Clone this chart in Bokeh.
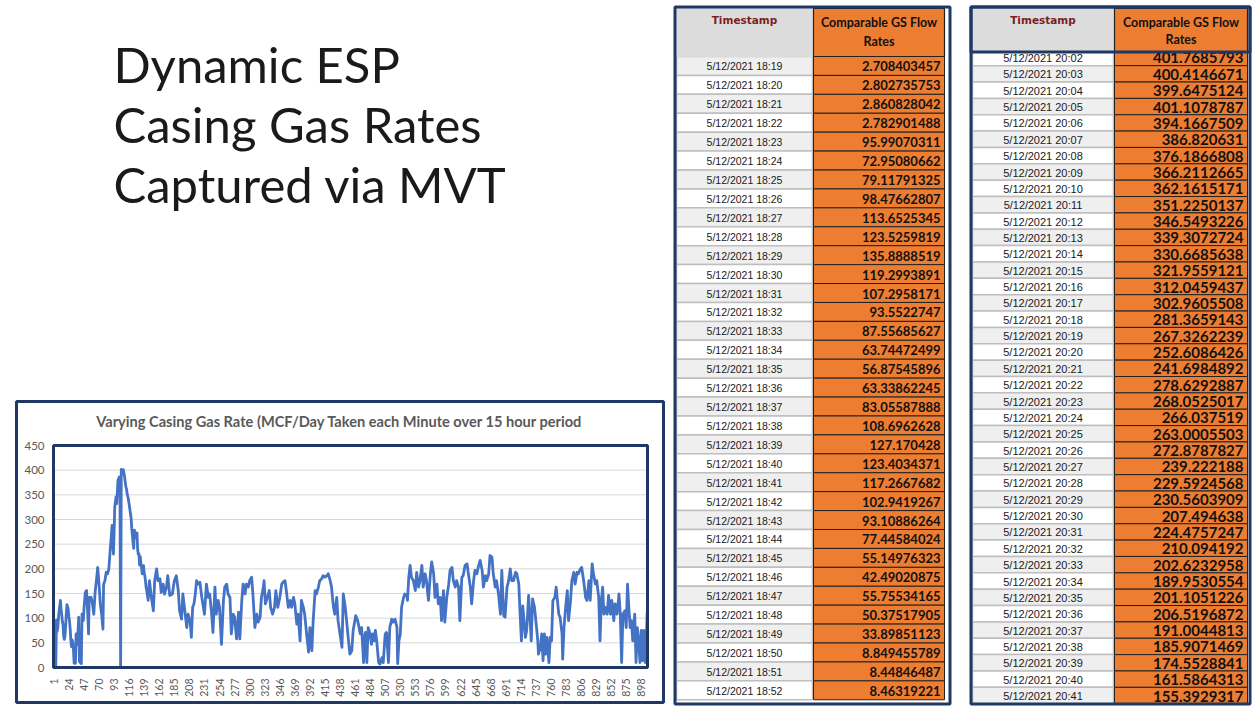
import math
from bokeh.plotting import figure
from bokeh.models import ColumnDataSource, Range1d, FixedTicker
from bokeh.layouts import row, column
from bokeh.core.properties import value
from bokeh.embed import file_html
from bokeh.resources import INLINE

# ---------------------------------------------------------------- data
TITLE_LINES = ["Dynamic ESP", "Casing Gas Rates", "Captured via MVT"]
CHART_TITLE = "Varying Casing Gas Rate (MCF/Day Taken each Minute over 15 hour period"
HEADER_TS = "Timestamp"
HEADER_VAL = ["Comparable GS Flow", "Rates"]

TABLE1_TIMES = [
    "5/12/2021 18:19", "5/12/2021 18:20", "5/12/2021 18:21", "5/12/2021 18:22",
    "5/12/2021 18:23", "5/12/2021 18:24", "5/12/2021 18:25", "5/12/2021 18:26",
    "5/12/2021 18:27", "5/12/2021 18:28", "5/12/2021 18:29", "5/12/2021 18:30",
    "5/12/2021 18:31", "5/12/2021 18:32", "5/12/2021 18:33", "5/12/2021 18:34",
    "5/12/2021 18:35", "5/12/2021 18:36", "5/12/2021 18:37", "5/12/2021 18:38",
    "5/12/2021 18:39", "5/12/2021 18:40", "5/12/2021 18:41", "5/12/2021 18:42",
    "5/12/2021 18:43", "5/12/2021 18:44", "5/12/2021 18:45", "5/12/2021 18:46",
    "5/12/2021 18:47", "5/12/2021 18:48", "5/12/2021 18:49", "5/12/2021 18:50",
    "5/12/2021 18:51", "5/12/2021 18:52",
]
TABLE1_RATES = [
    2.708403457, 2.802735753, 2.860828042, 2.782901488, 95.99070311, 72.95080662,
    79.11791325, 98.47662807, 113.6525345, 123.5259819, 135.8888519, 119.2993891,
    107.2958171, 93.5522747, 87.55685627, 63.74472499, 56.87545896, 63.33862245,
    83.05587888, 108.6962628, 127.170428, 123.4034371, 117.2667682, 102.9419267,
    93.10886264, 77.44584024, 55.14976323, 42.49020875, 55.75534165, 50.37517905,
    33.89851123, 8.849455789, 8.44846487, 8.46319221,
]
TABLE1_FIRST_MINUTE = 1

TABLE2_TIMES = [
    "5/12/2021 20:02", "5/12/2021 20:03", "5/12/2021 20:04", "5/12/2021 20:05",
    "5/12/2021 20:06", "5/12/2021 20:07", "5/12/2021 20:08", "5/12/2021 20:09",
    "5/12/2021 20:10", "5/12/2021 20:11", "5/12/2021 20:12", "5/12/2021 20:13",
    "5/12/2021 20:14", "5/12/2021 20:15", "5/12/2021 20:16", "5/12/2021 20:17",
    "5/12/2021 20:18", "5/12/2021 20:19", "5/12/2021 20:20", "5/12/2021 20:21",
    "5/12/2021 20:22", "5/12/2021 20:23", "5/12/2021 20:24", "5/12/2021 20:25",
    "5/12/2021 20:26", "5/12/2021 20:27", "5/12/2021 20:28", "5/12/2021 20:29",
    "5/12/2021 20:30", "5/12/2021 20:31", "5/12/2021 20:32", "5/12/2021 20:33",
    "5/12/2021 20:34", "5/12/2021 20:35", "5/12/2021 20:36", "5/12/2021 20:37",
    "5/12/2021 20:38", "5/12/2021 20:39", "5/12/2021 20:40", "5/12/2021 20:41",
]
TABLE2_RATES = [
    401.7685793, 400.4146671, 399.6475124, 401.1078787, 394.1667509, 386.820631,
    376.1866808, 366.2112665, 362.1615171, 351.2250137, 346.5493226, 339.3072724,
    330.6685638, 321.9559121, 312.0459437, 302.9605508, 281.3659143, 267.3262239,
    252.6086426, 241.6984892, 278.6292887, 268.0525017, 266.037519, 263.0005503,
    272.8787827, 239.222188, 229.5924568, 230.5603909, 207.494638, 224.4757247,
    210.094192, 202.6232958, 189.9530554, 201.1051226, 206.5196872, 191.0044813,
    185.9071469, 174.5528841, 161.5864313, 155.3929317,
]
TABLE2_FIRST_MINUTE = 104

# chart readings between the two tables (minute index, MCF/day)
EARLY_MINUTES = [35, 37, 39, 40, 42, 43, 44, 46, 47, 49,
                 51, 53, 54, 55, 58, 60, 62, 64, 66, 68,
                 70, 72, 74, 76, 77, 79, 81, 83, 85, 87,
                 89, 90, 92, 93, 94, 96, 97, 99, 101, 102,
                 103]
EARLY_RATES = [68, 47, 102, 12, 9, 8, 108, 95, 118, 152,
               156, 102, 68, 142, 142, 129, 108, 152, 176, 203,
               169, 129, 108, 78, 169, 176, 193, 190, 200, 237,
               271, 288, 230, 271, 325, 346, 332, 380, 386, 362,
               0]

# chart readings after the second table
LATE_MINUTES = [
    145, 147, 150, 153, 155, 158, 160, 163, 165, 168,
    170, 173, 175, 178, 182, 185, 188, 191, 193, 196,
    198, 201, 204, 206, 209, 211, 213, 215, 217, 219,
    221, 224, 227, 231, 234, 237, 239, 242, 244, 247,
    249, 252, 254, 257, 260, 262, 265, 267, 270, 272,
    275, 277, 280, 283, 285, 288, 290, 293, 295, 298,
    300, 303, 305, 308, 311, 313, 316, 318, 321, 322,
    324, 327, 330, 332, 335, 338, 340, 343, 346, 349,
    351, 354, 356, 359, 362, 364, 367, 369, 372, 374,
    377, 379, 382, 384, 387, 390, 392, 395, 397, 400,
    402, 405, 407, 410, 412, 415, 418, 420, 423, 425,
    428, 430, 433, 435, 438, 441, 443, 446, 448, 451,
    453, 456, 458, 462, 465, 467, 469, 471, 474, 475,
    477, 479, 481, 484, 486, 488, 490, 492, 494, 497,
    499, 502, 504, 507, 509, 512, 514, 517, 519, 522,
    525, 526, 528, 530, 532, 535, 537, 540, 541, 543,
    545, 547, 550, 553, 555, 558, 560, 563, 565, 568,
    570, 573, 576, 578, 581, 583, 586, 588, 591, 593,
    596, 598, 601, 604, 606, 609, 611, 614, 616, 619,
    621, 624, 626, 629, 632, 634, 637, 639, 642, 644,
    647, 649, 652, 655, 657, 660, 662, 665, 667, 670,
    672, 675, 677, 680, 683, 685, 688, 690, 693, 695,
    698, 700, 703, 706, 708, 711, 713, 715, 717, 719,
    721, 723, 726, 728, 730, 732, 735, 737, 740, 741,
    744, 746, 748, 750, 752, 754, 757, 759, 761, 763,
    766, 768, 770, 772, 774, 777, 778, 780, 783, 785,
    787, 790, 792, 795, 797, 800, 802, 805, 807, 810,
    813, 815, 818, 820, 823, 825, 828, 830, 833, 835,
    837, 839, 841, 843, 846, 848, 851, 853, 856, 858,
    861, 864, 866, 868, 870, 873, 875, 877, 879, 881,
    883, 885, 888, 890, 892, 894, 896, 898, 900, 902,
    904, 905, 907,
]
LATE_RATES = [
    136, 176, 142, 115, 176, 200, 176, 180, 152, 169,
    149, 163, 186, 146, 149, 176, 186, 156, 115, 98,
    149, 115, 81, 108, 95, 61, 122, 129, 149, 176,
    169, 173, 142, 108, 169, 142, 149, 108, 71, 163,
    108, 136, 122, 47, 136, 163, 169, 149, 142, 68,
    108, 102, 58, 112, 58, 136, 169, 149, 169, 163,
    176, 183, 149, 81, 108, 92, 102, 142, 163, 176,
    129, 142, 156, 122, 108, 122, 156, 122, 142, 169,
    173, 176, 156, 122, 136, 122, 142, 129, 88, 108,
    54, 136, 122, 108, 68, 31, 81, 34, 95, 156,
    149, 163, 176, 180, 186, 183, 186, 190, 176, 163,
    122, 108, 142, 95, 68, 41, 149, 122, 95, 54,
    27, 34, 75, 105, 95, 81, 68, 81, 10, 61,
    71, 10, 81, 68, 47, 68, 54, 75, 54, 10,
    7, 20, 10, 68, 71, 10, 81, 98, 92, 98,
    81, 8, 54, 68, 122, 142, 149, 146, 136, 183,
    207, 183, 176, 156, 193, 163, 176, 207, 163, 190,
    176, 136, 190, 214, 190, 142, 169, 129, 142, 95,
    156, 92, 142, 169, 197, 203, 176, 163, 176, 163,
    95, 183, 186, 207, 210, 190, 163, 129, 176, 197,
    190, 203, 217, 197, 163, 186, 176, 190, 227, 224,
    190, 163, 176, 149, 108, 197, 105, 102, 163, 173,
    200, 176, 176, 193, 190, 169, 108, 54, 125, 95,
    61, 75, 146, 102, 54, 139, 122, 95, 54, 27,
    41, 68, 14, 68, 27, 61, 10, 61, 54, 136,
    142, 163, 136, 108, 102, 68, 17, 81, 129, 156,
    95, 136, 176, 193, 169, 193, 190, 200, 203, 176,
    142, 136, 176, 136, 210, 190, 169, 176, 142, 54,
    136, 163, 108, 122, 108, 146, 108, 136, 95, 129,
    108, 149, 108, 10, 108, 115, 81, 169, 122, 81,
    95, 54, 108, 10, 81, 54, 10, 75, 14, 75,
    10, 20, 112,
]
TOTAL_MINUTES = 907

X_TICKS = [1, 24, 47, 70, 93, 116, 139, 162, 185, 208, 231, 254, 277, 300,
           323, 346, 369, 392, 415, 438, 461, 484, 507, 530, 553, 576, 599,
           622, 645, 668, 691, 714, 737, 760, 783, 806, 829, 852, 875, 898]
Y_TICKS = [0, 50, 100, 150, 200, 250, 300, 350, 400, 450]
Y_MAX = 450

assert len(TABLE1_TIMES) == len(TABLE1_RATES)
assert len(TABLE2_TIMES) == len(TABLE2_RATES)
assert len(EARLY_MINUTES) == len(EARLY_RATES)
assert len(LATE_MINUTES) == len(LATE_RATES)

# ---------------------------------------------------------------- styles / layout
NAVY = "#1F3864"
ORANGE = "#ED7D31"
LINE_BLUE = "#4472C4"
AXIS_GREY = "#595959"
HEADER_RED = "#7B1F1F"

LEFT_W, TITLE_H, CHART_H = 672, 395, 312
# page pixels: outer chart box (the chart figure's frame) and the plot area in it
BOX_L, BOX_R, BOX_T, BOX_B = 16, 663, 401, 702
PLOT_L, PLOT_R, PLOT_T, PLOT_B = 53, 647, 445, 667

X_LO, X_HI = 0.5, TOTAL_MINUTES + 0.5
px_x = (PLOT_R - PLOT_L) / (X_HI - X_LO)
px_y = (PLOT_B - PLOT_T) / Y_MAX
X_START = X_LO - (PLOT_L - BOX_L) / px_x
X_END = X_HI + (BOX_R - PLOT_R) / px_x
Y_START = 0 - (BOX_B - PLOT_B) / px_y
Y_END = Y_MAX + (PLOT_T - BOX_T) / px_y


def blank(w, h):
    p = figure(width=w, height=h, x_range=Range1d(0, w), y_range=Range1d(h, 0),
               x_axis_type=None, y_axis_type=None, output_backend="svg",
               toolbar_location=None, min_border=0)
    p.outline_line_color = None
    p.background_fill_color = "white"
    p.border_fill_color = "white"
    return p


# ---------------------------------------------------------------- title panel
# (its frame lines up with the chart frame, so the x range is in page pixels)
title_fig = figure(width=LEFT_W, height=TITLE_H, x_range=Range1d(BOX_L, BOX_R),
                   y_range=Range1d(TITLE_H, 0), x_axis_type=None, y_axis_type=None,
                   output_backend="svg", toolbar_location=None,
                   min_border_left=BOX_L, min_border_right=LEFT_W - BOX_R,
                   min_border_top=0, min_border_bottom=0)
title_fig.outline_line_color = None
title_fig.text(x=[113, 113, 113], y=[63, 123, 183], text=TITLE_LINES,
               text_font=value("Lato"), text_font_size="49px",
               text_baseline="middle", text_align="left", text_color="#1A1A1A")

# ---------------------------------------------------------------- chart
minutes = (list(range(TABLE1_FIRST_MINUTE, TABLE1_FIRST_MINUTE + len(TABLE1_RATES)))
           + EARLY_MINUTES
           + list(range(TABLE2_FIRST_MINUTE, TABLE2_FIRST_MINUTE + len(TABLE2_RATES)))
           + LATE_MINUTES)
rates = TABLE1_RATES + EARLY_RATES + TABLE2_RATES + LATE_RATES
chart_src = ColumnDataSource(dict(minute=minutes, rate=rates))

chart = figure(width=LEFT_W, height=CHART_H, x_range=Range1d(X_START, X_END),
               y_range=Range1d(Y_START, Y_END), output_backend="svg",
               toolbar_location=None, title=None,
               min_border_left=BOX_L, min_border_right=LEFT_W - BOX_R,
               min_border_top=BOX_T - TITLE_H, min_border_bottom=TITLE_H + CHART_H - BOX_B)
chart.outline_line_color = NAVY          # outer chart box
chart.outline_line_width = 3
chart.outline_line_alpha = 1.0
chart.xgrid.visible = False
chart.ygrid.visible = False

# horizontal gridlines at the y ticks, across the plot area only
grid_vals = [t for t in Y_TICKS if 0 < t < Y_MAX]
chart.segment(x0=[X_LO] * len(grid_vals), x1=[X_HI] * len(grid_vals),
              y0=grid_vals, y1=grid_vals, line_color="#D9D9D9", line_width=1)

chart.line(x="minute", y="rate", source=chart_src, line_color=LINE_BLUE,
           line_width=2.8, line_join="round")

# plot-area border
chart.quad(left=[X_LO], right=[X_HI], bottom=[0], top=[Y_MAX], fill_color=None,
           line_color=NAVY, line_width=3)

# chart title inside the box
title_x = X_LO + (339 - PLOT_L) / px_x
title_y = (PLOT_B - 421) / px_y
chart.text(x=[title_x], y=[title_y], text=[CHART_TITLE], text_align="center",
           text_baseline="middle", text_font=value("Lato"), text_font_style="bold",
           text_font_size="14.6px", text_color=AXIS_GREY)

# axes pinned to the plot-area edges
chart.yaxis.fixed_location = X_LO
chart.xaxis.fixed_location = 0
chart.yaxis.ticker = FixedTicker(ticks=Y_TICKS)
chart.xaxis.ticker = FixedTicker(ticks=X_TICKS)
chart.xaxis.major_label_orientation = math.pi / 2
for ax in (chart.xaxis[0], chart.yaxis[0]):
    ax.axis_line_color = None
    ax.major_tick_line_color = None
    ax.minor_tick_line_color = None
    ax.major_label_text_font = "Lato"
    ax.major_label_text_color = AXIS_GREY
chart.yaxis.major_label_text_font_size = "11.5px"
chart.yaxis.major_label_standoff = 3
chart.xaxis.major_label_text_font_size = "10.5px"
chart.xaxis.major_label_standoff = 5


# ---------------------------------------------------------------- tables
def draw_table(p, times, rates_, *, ts_left, ts_right, val_left, val_right,
               hdr_top, hdr_bottom, first_top, row_h, gray_even, ts_size, val_size,
               val_pad, box_left, box_right, box_top, box_bottom, hdr_text_y,
               header_box):
    n = len(times)
    idx = list(range(n))
    tops = [first_top + i * row_h for i in idx]
    src = ColumnDataSource(dict(
        top=tops,
        bottom=[t + row_h for t in tops],
        mid=[t + row_h / 2 + 0.5 for t in tops],
        fill=["#EFEFEF" if (i % 2 == 0) == gray_even else "#FFFFFF" for i in idx],
        ts=times,
        val=[str(r) for r in rates_],
    ))
    p.quad(left=ts_left, right=ts_right, top="top", bottom="bottom", fill_color="fill",
           line_color="#BEBEBE", line_width=1.5, source=src)
    p.quad(left=val_left, right=val_right, top="top", bottom="bottom", fill_color=ORANGE,
           line_color="#222222", line_width=1, source=src)
    p.text(x=(ts_left + ts_right) / 2, y="mid", text="ts", source=src,
           text_align="center", text_baseline="middle",
           text_font=value("Liberation Sans"), text_font_size=f"{ts_size}px",
           text_color="#1A1A1A")
    p.text(x=val_right - val_pad, y="mid", text="val", source=src,
           text_align="right", text_baseline="middle",
           text_font=value("Lato"), text_font_style="bold",
           text_font_size=f"{val_size}px", text_color="#111111")
    # header
    p.quad(left=ts_left, right=ts_right, top=hdr_top, bottom=hdr_bottom,
           fill_color="#DCDCDC", line_color="#DCDCDC")
    p.quad(left=val_left, right=val_right, top=hdr_top, bottom=hdr_bottom,
           fill_color=ORANGE, line_color="#222222", line_width=1.2)
    p.text(x=[(ts_left + ts_right) / 2], y=[19], text=[HEADER_TS],
           text_align="center", text_baseline="middle",
           text_font=value("DejaVu Sans"), text_font_style="bold",
           text_font_size="10.5px", text_color=HEADER_RED)
    vc = (val_left + val_right) / 2
    p.text(x=[vc, vc], y=hdr_text_y, text=HEADER_VAL,
           text_align="center", text_baseline="middle",
           text_font=value("Lato"), text_font_style="bold",
           text_font_size="12.5px", text_color="#111111")
    # frames
    if header_box:
        p.quad(left=box_left, right=box_right, top=box_top, bottom=hdr_bottom,
               fill_color=None, line_color=NAVY, line_width=3)
    p.quad(left=box_left, right=box_right, top=box_top, bottom=box_bottom,
           fill_color=None, line_color=NAVY, line_width=3)


table1 = blank(288, 707)
draw_table(table1, TABLE1_TIMES, TABLE1_RATES, ts_left=4, ts_right=140,
           val_left=141, val_right=272, hdr_top=8, hdr_bottom=56, first_top=56,
           row_h=18.92, gray_even=True, ts_size=10.5, val_size=13, val_pad=4,
           box_left=2.5, box_right=277.5, box_top=6.5, box_bottom=703.5,
           hdr_text_y=[22, 41], header_box=False)

table2 = blank(295, 707)
draw_table(table2, TABLE2_TIMES, TABLE2_RATES, ts_left=12, ts_right=153,
           val_left=154, val_right=287, hdr_top=8, hdr_bottom=51.5, first_top=48.8,
           row_h=16.36, gray_even=False, ts_size=11, val_size=15, val_pad=4,
           box_left=10.5, box_right=289.5, box_top=6.5, box_bottom=703.5,
           hdr_text_y=[22, 39], header_box=True)

layout = row(column(title_fig, chart, spacing=0), table1, table2, spacing=0)

open("out.html", "w").write(file_html(layout, INLINE))
